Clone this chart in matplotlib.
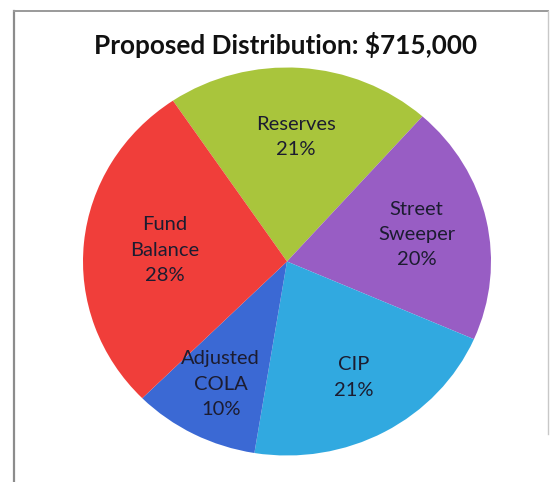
import matplotlib.pyplot as plt
from matplotlib.lines import Line2D
import numpy as np

labels = ["Reserves", "Street\nSweeper", "CIP", "Adjusted\nCOLA", "Fund\nBalance"]
values = [21, 20, 21, 10, 28]
colors = ["#a9c53c", "#985dc4", "#31a9e0", "#3b69d4", "#f03e3a"]
title = "Proposed Distribution: $715,000"

W, H = 555, 482
fig = plt.figure(figsize=(W / 100, H / 100), dpi=100)
fig.patch.set_facecolor("white")

cx, cy, rx, ry = 287, 261.5, 204, 194
ax = fig.add_axes([(cx - rx) / W, (H - cy - ry) / H, 2 * rx / W, 2 * ry / H])
wedges, _ = ax.pie(values, colors=colors, startangle=124, counterclock=False,
                   radius=1, wedgeprops=dict(linewidth=0))
ax.set_xlim(-1, 1)
ax.set_ylim(-1, 1)
ax.set_aspect("auto")
ax.axis("off")

label_r = [0.643, 0.65, 0.68, 0.71, 0.6]
for w, lab, v, lr in zip(wedges, labels, values, label_r):
    th = np.deg2rad((w.theta1 + w.theta2) / 2)
    ax.text(lr * np.cos(th), lr * np.sin(th), f"{lab}\n{v}%", ha="center",
            va="center", fontsize=14.5, linespacing=1.6, color="#1c1c30",
            family="Lato")

fig.text(286 / W, 1 - 45 / H, title, ha="center", va="center", fontsize=18.8,
         fontweight="bold", family="Lato", color="#111111")

# frame
fig.add_artist(Line2D([14 / W, 14 / W], [0, 1 - 11 / H], transform=fig.transFigure,
                      color="#8c8c8c", lw=1.6))
fig.add_artist(Line2D([14 / W, 548 / W], [1 - 11 / H, 1 - 11 / H], transform=fig.transFigure,
                      color="#9a9a9a", lw=1.4))
fig.add_artist(Line2D([548 / W, 548 / W], [0.1, 1 - 11 / H], transform=fig.transFigure,
                      color="#c8c8c8", lw=1.0))

fig.savefig("out.png", dpi=100, facecolor="white")
